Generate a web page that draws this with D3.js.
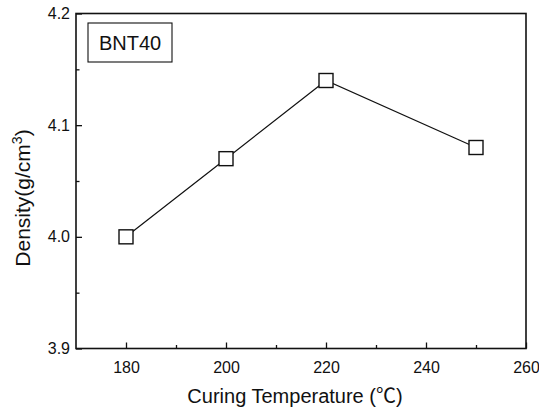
<!DOCTYPE html>
<html><head><meta charset="utf-8">
<script src="https://cdn.jsdelivr.net/npm/d3@7"></script>
<style>body{margin:0;background:#fff}svg{display:block}text{font-family:"Liberation Sans",Arial,sans-serif;fill:#111}</style>
</head><body><svg id="c" width="539" height="414"></svg>
<script>
const temperatures = [180, 200, 220, 250];
const densities = [4.00, 4.07, 4.14, 4.08];
const xTicks = [180, 200, 220, 240, 260];
const xMinor = [190, 210, 230, 250];
const yTicks = [3.9, 4.0, 4.1, 4.2];
const yMinor = [3.95, 4.05, 4.15];
const legendLabel = "BNT40";

const svg = d3.select("#c");
const L = 76, R = 526, T = 13.5, B = 348.5;
const x = d3.scaleLinear().domain([170, 260]).range([L, R]);
const y = d3.scaleLinear().domain([3.9, 4.2]).range([B, T]);

const g = svg.append("g");
const xa = g.append("g").attr("transform", `translate(0,${B})`)
  .call(d3.axisBottom(x).tickValues(xTicks).tickSizeInner(-6).tickSizeOuter(0).tickPadding(13).tickFormat(d3.format("d")));
const xm = g.append("g").attr("transform", `translate(0,${B})`)
  .call(d3.axisBottom(x).tickValues(xMinor).tickSizeInner(-3.5).tickSizeOuter(0).tickFormat(""));
const ya = g.append("g").attr("transform", `translate(${L},0)`)
  .call(d3.axisLeft(y).tickValues(yTicks).tickSizeInner(-6).tickSizeOuter(0).tickPadding(6).tickFormat(d3.format(".1f")));
const ym = g.append("g").attr("transform", `translate(${L},0)`)
  .call(d3.axisLeft(y).tickValues(yMinor).tickSizeInner(-3.5).tickSizeOuter(0).tickFormat(""));
[xa, xm, ya, ym].forEach(a => {
  a.select(".domain").remove();
  a.attr("font-size", null).attr("font-family", null);
  a.selectAll("line").attr("stroke", "#111").attr("stroke-width", 1.3);
  a.selectAll("text").style("font-size", "16px").attr("fill", "#111").style("font-family", '"Liberation Sans",Arial,sans-serif');
});
// frame
g.append("rect").attr("x", L).attr("y", T).attr("width", R - L).attr("height", B - T)
  .attr("fill", "none").attr("stroke", "#111").attr("stroke-width", 1.6);

// data line
const pts = temperatures.map((t, i) => [x(t), y(densities[i])]);
g.append("path").datum(pts).attr("d", d3.line()).attr("fill", "none").attr("stroke", "#111").attr("stroke-width", 1.2);
const s = 14;
g.selectAll("rect.m").data(pts).join("rect").attr("class", "m")
  .attr("x", d => d[0] - s / 2).attr("y", d => d[1] - s / 2).attr("width", s).attr("height", s)
  .attr("fill", "#fff").attr("stroke", "#111").attr("stroke-width", 1.4);

// legend box
g.append("rect").attr("x", 88).attr("y", 23).attr("width", 84).attr("height", 39)
  .attr("fill", "#fff").attr("stroke", "#111").attr("stroke-width", 1.1);
g.append("text").attr("x", 130).attr("y", 50).attr("text-anchor", "middle").style("font-size", "20px").text(legendLabel);

// axis titles
const xt = g.append("text").attr("x", 295).attr("y", 403).attr("text-anchor", "middle").style("font-size", "20px");
xt.append("tspan").text("Curing Temperature (");
xt.append("tspan").style("font-family", '"Noto Sans CJK KR","Noto Sans CJK SC",sans-serif').text("℃");
xt.append("tspan").text(")");
const yt = g.append("text").attr("transform", `translate(30,${(T + B) / 2 + 17}) rotate(-90)`).attr("text-anchor", "middle").style("font-size", "21px");
yt.append("tspan").text("Density(g/cm");
yt.append("tspan").style("font-size", "14px").attr("dy", -8).text("3");
yt.append("tspan").attr("dy", 8).text(")");
</script></body></html>
